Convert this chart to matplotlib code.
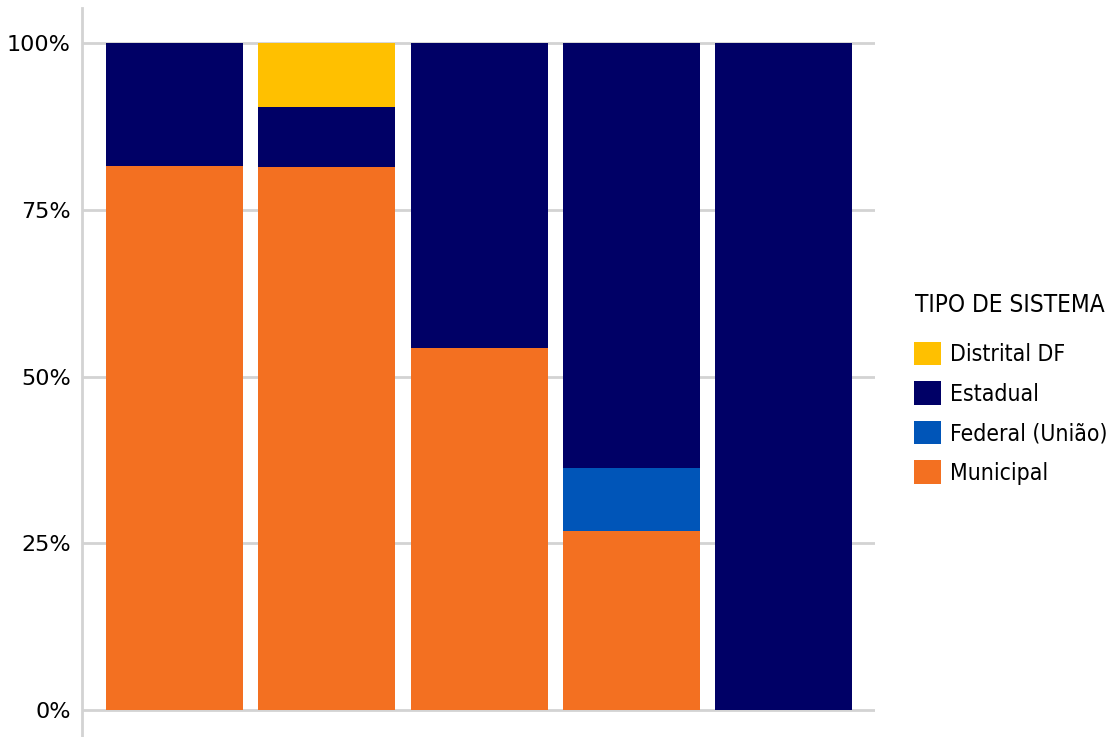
import matplotlib.pyplot as plt
from matplotlib.patches import Patch
from matplotlib.ticker import FixedLocator
from matplotlib.font_manager import FontProperties

# participação de cada tipo de sistema por grupo (em %)
grupos = ['1', '2', '3', '4', '5']
municipal = [81.6, 81.4, 54.3, 26.8, 0.0]
federal = [0.0, 0.0, 0.0, 9.5, 0.0]
estadual = [18.4, 9.0, 45.7, 63.7, 100.0]
distrital = [0.0, 9.6, 0.0, 0.0, 0.0]

tipos = ['Distrital DF', 'Estadual', 'Federal (União)', 'Municipal']
cores = {'Distrital DF': '#FFC000', 'Estadual': '#000066',
         'Federal (União)': '#0055B8', 'Municipal': '#F37021'}
yticks = [0, 25, 50, 75, 100]
ylabels = ['0%', '25%', '50%', '75%', '100%']

fig = plt.figure(figsize=(11.13, 7.37), dpi=100)
ax = fig.add_axes([82 / 1113, 0, (875 - 82) / 1113, (737 - 8) / 737])

x = list(range(len(grupos)))
base = [0.0] * len(grupos)
# empilha de baixo para cima
for nome, vals in [('Municipal', municipal), ('Federal (União)', federal),
                   ('Estadual', estadual), ('Distrital DF', distrital)]:
    ax.bar(x, vals, bottom=base, width=0.9, color=cores[nome], zorder=3)
    base = [b + v for b, v in zip(base, vals)]

ax.set_xlim(-0.607, 4.6)
ax.set_ylim(-4.05, 105.25)
ax.yaxis.set_major_locator(FixedLocator(yticks))
ax.set_yticklabels(ylabels, fontsize=16, family='DejaVu Sans')
ax.set_xticks([])
ax.tick_params(axis='y', length=0, pad=8)
ax.grid(axis='y', color='#d3d3d3', linewidth=2, zorder=0)
for s in ['top', 'right', 'bottom']:
    ax.spines[s].set_visible(False)
ax.spines['left'].set_color('#d3d3d3')
ax.spines['left'].set_linewidth(2)

fp_itens = FontProperties(family='DejaVu Sans', stretch='condensed', size=16.5)
fp_titulo = FontProperties(family='DejaVu Sans', stretch='condensed', size=17.5)

# título da legenda separado para controlar o espaçamento
fig.text(915 / 1113, 1 - 305 / 737, 'TIPO DE SISTEMA', fontproperties=fp_titulo,
         ha='left', va='center')
handles = [Patch(facecolor=cores[t], label=t) for t in tipos]
leg = fig.legend(handles=handles, loc='upper left',
                 bbox_to_anchor=(893 / 1113, 1 - 321 / 737), frameon=False,
                 prop=fp_itens, handlelength=1.2, handleheight=1.2,
                 handletextpad=0.4, labelspacing=0.66)

fig.savefig('out.png', dpi=100)
